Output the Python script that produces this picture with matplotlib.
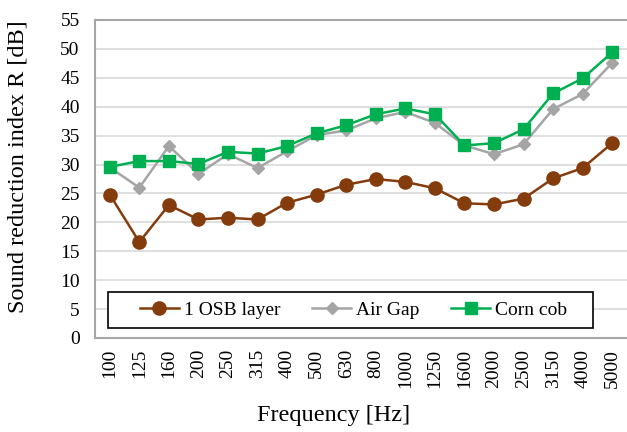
import matplotlib
matplotlib.use("Agg")
import matplotlib.pyplot as plt
from matplotlib.patches import Rectangle
import numpy as np

plt.rcParams['font.family'] = ['Liberation Serif', 'DejaVu Serif']

freqs = ["100", "125", "160", "200", "250", "315", "400", "500", "630", "800",
         "1000", "1250", "1600", "2000", "2500", "3150", "4000", "5000"]
osb = [24.8, 16.6, 23.0, 20.5, 20.8, 20.5, 23.4, 24.8, 26.5, 27.5,
       27.0, 25.9, 23.3, 23.1, 24.1, 27.6, 29.4, 33.7]
air_gap = [29.5, 26.0, 33.2, 28.4, 31.8, 29.4, 32.3, 35.1, 35.9, 38.0,
           39.1, 37.2, 33.3, 31.8, 33.5, 39.6, 42.2, 47.6]
corn_cob = [29.6, 30.6, 30.6, 30.1, 32.2, 31.9, 33.2, 35.4, 36.8, 38.7,
            39.7, 38.7, 33.3, 33.7, 36.1, 42.3, 44.9, 49.4]

fig = plt.figure(figsize=(6.27, 4.32), dpi=100)
# axes box in pixels: x 95..627, y 20..338
ax = fig.add_axes([95 / 627, 1 - 338 / 432, 532 / 627, 318 / 432])

x = np.arange(len(freqs))
ax.plot(x, osb, color="#843C0C", lw=1.8, marker="o", ms=9.5, label="1 OSB layer", zorder=3)
ax.plot(x, air_gap, color="#A5A5A5", lw=1.8, marker="D", ms=6.5, label="Air Gap", zorder=3)
ax.plot(x, corn_cob, color="#00B050", lw=1.8, marker="s", ms=8.5, label="Corn cob", zorder=4)

ax.set_xlim(-0.5, len(freqs) - 0.5)
ax.set_ylim(0, 55)
ax.set_yticks(np.arange(0, 56, 5))
ax.set_xticks(x)
ax.set_xticklabels(freqs, rotation=90)
ax.tick_params(axis="both", length=0, labelsize=14)
ax.tick_params(axis="x", pad=8)
ax.tick_params(axis="y", pad=11)
ax.grid(axis="y", color="#D9D9D9", lw=1.2)
ax.set_axisbelow(True)
for s in ax.spines.values():
    s.set_color("#A6A6A6")
    s.set_linewidth(1.5)
ax.spines["right"].set_visible(False)

ax.set_xlabel("Frequency [Hz]", fontsize=17.5)
ax.set_ylabel("Sound reduction index R [dB]", fontsize=17.5)
ax.xaxis.set_label_coords((334 - 95) / 532, -67 / 318)
ax.yaxis.set_label_coords(-66 / 532, 171 / 318)

# legend box drawn separately so its padding matches
box = Rectangle((13 / 532, 10 / 318), 485 / 532, 36 / 318, transform=ax.transAxes,
                facecolor="white", edgecolor="black", lw=1.2, zorder=5)
ax.add_patch(box)
leg = ax.legend(loc="center", bbox_to_anchor=(258.5 / 532, 28 / 318), ncol=3,
                fontsize=14, frameon=False, handlelength=2.0,
                handletextpad=0.25, columnspacing=1.65, borderpad=0, borderaxespad=0)
leg.set_zorder(6)

fig.savefig("out.png", dpi=100)
